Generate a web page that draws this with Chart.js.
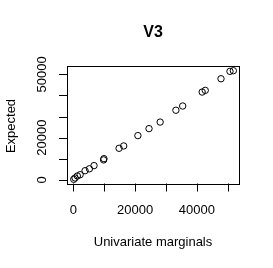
<!DOCTYPE html>
<html>
<head>
<meta charset="utf-8">
<script src="https://cdn.jsdelivr.net/npm/chart.js@4"></script>
<style>
  body { margin: 0; background: #fff; }
  canvas { display: block; }
</style>
</head>
<body>
<canvas id="chart" width="273" height="268"></canvas>
<script>
// values
const marginals = [51800, 50700, 47800, 42700, 41700, 35400, 33200, 28100, 24500, 20900,
  16300, 14800, 9900, 9800, 6700, 5200, 3800, 2200, 1300, 550, 130];
const expected = [51700, 51400, 47900, 42400, 41600, 35000, 33000, 27400, 24300, 21000,
  16100, 15000, 10100, 9500, 6800, 5300, 4400, 2500, 1900, 950, 330];
const xTicks = [0, 10000, 20000, 30000, 40000, 50000];
const xLabels = [0, 20000, 40000];
const yTicks = [0, 10000, 20000, 30000, 40000, 50000];
const yLabels = [0, 20000, 50000];

const font = '"Liberation Sans", Arial, sans-serif';

// R style box, ticks and labels
const rAxes = {
  id: 'rAxes',
  afterDraw(chart) {
    const ctx = chart.ctx;
    const a = chart.chartArea;
    const sx = chart.scales.x, sy = chart.scales.y;
    ctx.save();
    ctx.strokeStyle = '#000';
    ctx.lineWidth = 1;
    ctx.strokeRect(Math.round(a.left) + 0.5, Math.round(a.top) + 0.5,
      Math.round(a.right - a.left) - 1, Math.round(a.bottom - a.top));

    ctx.fillStyle = '#000';
    ctx.font = '13px ' + font;
    // x ticks
    ctx.beginPath();
    xTicks.forEach(v => {
      const px = Math.round(sx.getPixelForValue(v)) + 0.5;
      ctx.moveTo(px, a.bottom);
      ctx.lineTo(px, a.bottom + 8);
    });
    ctx.stroke();
    ctx.textAlign = 'center';
    ctx.textBaseline = 'middle';
    xLabels.forEach(v => ctx.fillText(String(v), sx.getPixelForValue(v), 210));

    // y ticks
    ctx.beginPath();
    yTicks.forEach(v => {
      const py = Math.round(sy.getPixelForValue(v)) + 0.5;
      ctx.moveTo(a.left, py);
      ctx.lineTo(a.left - 8, py);
    });
    ctx.stroke();
    yLabels.forEach(v => {
      ctx.save();
      ctx.translate(42, sy.getPixelForValue(v));
      ctx.rotate(-Math.PI / 2);
      ctx.fillText(String(v), 0, 0);
      ctx.restore();
    });

    // titles
    ctx.fillText('Univariate marginals', 153, 242);
    ctx.save();
    ctx.translate(11, 126);
    ctx.rotate(-Math.PI / 2);
    ctx.fillText('Expected', 0, 0);
    ctx.restore();
    ctx.font = 'bold 16px ' + font;
    ctx.fillText('V3', 153, 33);
    ctx.restore();
  }
};

new Chart(document.getElementById('chart'), {
  type: 'scatter',
  data: {
    datasets: [{
      data: marginals.map((m, i) => ({ x: m, y: expected[i] })),
      pointStyle: 'circle',
      pointRadius: 3.2,
      pointHoverRadius: 3.2,
      borderColor: '#000',
      borderWidth: 1,
      backgroundColor: 'rgba(0,0,0,0)'
    }]
  },
  options: {
    responsive: false,
    animation: false,
    devicePixelRatio: 1,
    layout: { padding: { left: 67, right: 33, top: 66, bottom: 84.5 } },
    plugins: { legend: { display: false }, tooltip: { enabled: false } },
    scales: {
      x: { type: 'linear', display: false, min: -2050, max: 53950 },
      y: { type: 'linear', display: false, min: -1660, max: 53930 }
    }
  },
  plugins: [rAxes]
});
</script>
</body>
</html>
